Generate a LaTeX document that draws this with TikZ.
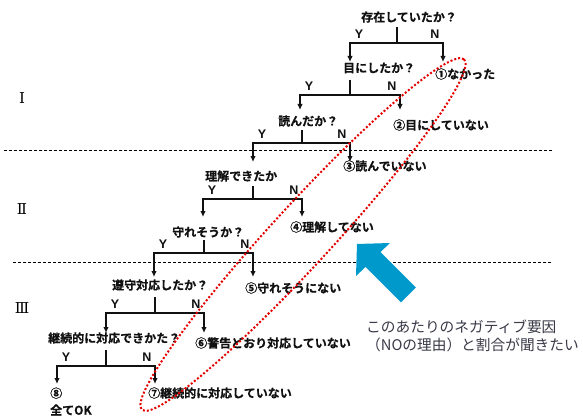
\documentclass[tikz,border=0pt]{standalone}
\usepackage{fontspec}
\usetikzlibrary{arrows.meta}
\newfontfamily\jp{Noto Sans CJK JP}
\newfontfamily\jpb{Noto Sans CJK JP Bold}[FakeBold=0.5]
\newfontfamily\romf{DejaVu Serif}
\newfontfamily\lsans{Liberation Sans}
\definecolor{treeblack}{HTML}{111111}
\definecolor{arrowblue}{HTML}{0099CC}
\definecolor{notegray}{HTML}{3A3A48}
\newcommand\mybranch[7]{%
  \coordinate (#1s) at (#2,#3);
  \coordinate (#1j) at (#2,#4);
  \coordinate (#1l) at (#5,#7);
  \coordinate (#1r) at (#6,#7);
  \draw[ln] (#1s) -- (#1j);
  \draw[arr] (#1j) -| (#1l);
  \draw[arr] (#1j) -| (#1r);
  \node[yn] (#1Y) at (#5+9,#4-9) {Y};
  \node[yn] (#1N) at (#6-8,#4-9) {N};
}
\begin{document}
\begin{tikzpicture}[x=1pt,y=-1pt,
  q/.style={anchor=west,inner sep=0pt,font=\jpb\fontsize{12}{14}\selectfont,text=treeblack},
  yn/.style={inner sep=0pt,font=\lsans\bfseries\fontsize{12.5}{14}\selectfont,text=treeblack},
  ln/.style={line width=1.6pt,draw=treeblack},
  arr/.style={ln,-{Latex[length=6pt,width=5.5pt]}},
  roman/.style={inner sep=0pt,font=\romf\fontsize{15}{17}\selectfont},
  sep/.style={draw=black,line width=0.9pt,dash pattern=on 3pt off 2pt},
  note/.style={anchor=west,inner sep=0pt,align=left,text=notegray,font=\jp\fontsize{14.7}{18}\selectfont}]
\fill[white] (0,0) rectangle (583,417);
\useasboundingbox (0,0) rectangle (583,417);

% section separators
\coordinate (d1a) at (4,150);  \coordinate (d1b) at (553,150);
\coordinate (d2a) at (13,262); \coordinate (d2b) at (552,262);
\draw[sep] (d1a) -- (d1b);
\draw[sep] (d2a) -- (d2b);

% roman numerals
\node[roman] (r1) at (22,98) {Ⅰ};
\node[roman] (r2) at (22,209) {Ⅱ};
\node[roman] (r3) at (22,308) {Ⅲ};

% questions
\node[q] (q1) at (361,17) {存在していたか？};
\node[q] (q2) at (343,68) {目にしたか？};
\node[q] (q3) at (278,121) {読んだか？};
\node[q] (q4) at (205,176) {理解できたか};
\node[q] (q5) at (172,232) {守れそうか？};
\node[q] (q6) at (112,285) {遵守対応したか？};
\node[q] (q7) at (48,338) {継続的に対応できかた？};

% outcomes
\node[q] (o1) at (435,74) {①なかった};
\node[q] (o2) at (393,125) {②目にしていない};
\node[q] (o3) at (343,166) {③読んでいない};
\node[q] (o4) at (290,227) {④理解してない};
\node[q] (o5) at (245,288) {⑤守れそうにない};
\node[q] (o6) at (195,343) {⑥警告どおり対応していない};
\node[q] (o7) at (148,393) {⑦継続的に対応していない};
\node[q,align=left,font=\jpb\fontsize{12}{17}\selectfont] (o8) at (50,401.5) {⑧\\全てOK};

% branches
\mybranch{b1}{397}{27}{43}{350}{443}{62}
\mybranch{b2}{350}{80}{95}{300}{400}{110}
\mybranch{b3}{302}{130}{143}{253}{350}{162}
\mybranch{b4}{253}{186}{199}{203}{302}{217}
\mybranch{b5}{204}{240}{253}{154}{253}{277}
\mybranch{b6}{155}{297}{313}{106}{204}{333}
\mybranch{b7}{106}{350}{366}{57}{155}{384}

% red dotted ellipse
\coordinate (ec) at (303,234.5);
\draw[red!90!black,line width=2pt,dash pattern=on 2pt off 2pt,rotate around={47.4:(ec)}]
  (ec) ellipse [x radius=238, y radius=30];

% blue arrow
\fill[arrowblue] (357,244) -- (390,243) -- (380.4,252.1) -- (415.8,287.5)
  -- (401,302.3) -- (365.6,266.9) -- (356,276) -- cycle;

% note
\node[note] (n1) at (366,336) {このあたりのネガティブ要因\\（NOの理由）と割合が聞きたい};
\end{tikzpicture}
\end{document}
